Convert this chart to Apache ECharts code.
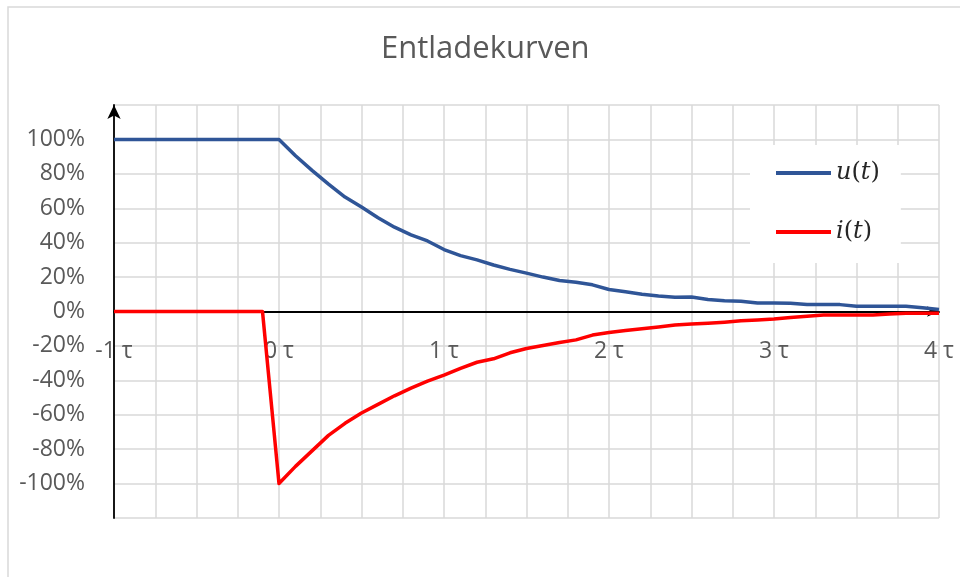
<!DOCTYPE html>
<html>
<head>
    <meta charset="utf-8">
    <title>Entladekurven</title>
    <script src="https://cdn.jsdelivr.net/npm/echarts@6/dist/echarts.min.js"></script>
    <style>
        html, body {margin: 0; padding: 0; background: #fff;}
        #chart {width: 960px; height: 577px;}
    </style>
</head>
<body>
<div id="chart"></div>
<script>
    // Zeit in tau, Werte als Anteil (1 = 100%)
    var tValues = [-1, -0.1, 0, 0.1, 0.2, 0.3, 0.4, 0.5, 0.6, 0.7, 0.8, 0.9, 1.0,
        1.1, 1.2, 1.3, 1.4, 1.5, 1.6, 1.7, 1.8, 1.9, 2.0, 2.1, 2.2, 2.3, 2.4, 2.5,
        2.6, 2.7, 2.8, 2.9, 3.0, 3.1, 3.2, 3.3, 3.4, 3.5, 3.6, 3.7, 3.8, 3.9, 4.0];
    var uValues = [1, 1, 1, 0.905, 0.82, 0.74, 0.665, 0.607, 0.545, 0.49, 0.445, 0.41, 0.36,
        0.325, 0.3, 0.27, 0.245, 0.223, 0.2, 0.18, 0.17, 0.155, 0.128, 0.115, 0.1, 0.09, 0.083, 0.084,
        0.07, 0.062, 0.06, 0.05, 0.05, 0.048, 0.04, 0.04, 0.04, 0.03, 0.03, 0.03, 0.03, 0.022, 0.012];
    var iValues = [0, 0, -1, -0.9, -0.81, -0.72, -0.65, -0.59, -0.54, -0.49, -0.445, -0.405, -0.37,
        -0.33, -0.295, -0.275, -0.24, -0.215, -0.198, -0.18, -0.165, -0.137, -0.122, -0.11, -0.1, -0.09, -0.078, -0.073,
        -0.068, -0.062, -0.054, -0.05, -0.044, -0.035, -0.027, -0.021, -0.021, -0.021, -0.021, -0.015, -0.01, -0.01, -0.01];
    var seriesNames = ['u(t)', 'i(t)'];

    function pairs(ys) {
        var out = [];
        for (var k = 0; k < tValues.length; k++) {
            out.push([tValues[k], ys[k]]);
        }
        return out;
    }

    var labelFont = '"Open Sans", sans-serif';
    var myChart = echarts.init(document.getElementById('chart'));
    var option = {
        animation: false,
        title: {
            text: 'Entladekurven',
            left: 376,
            top: 29,
            textStyle: {fontFamily: labelFont, fontSize: 31, fontWeight: 'normal', color: '#595959'}
        },
        graphic: [{
            type: 'rect',
            shape: {x: 8, y: 7, width: 1000, height: 600},
            style: {fill: 'none', stroke: '#d9d9d9', lineWidth: 1.5},
            silent: true
        }],
        grid: {left: 114, right: 21, top: 105, bottom: 59},
        legend: {
            data: seriesNames,
            orient: 'vertical',
            left: 750,
            top: 145,
            padding: [14, 21, 17, 26],
            backgroundColor: '#fff',
            icon: 'rect',
            itemWidth: 55,
            itemHeight: 4,
            itemGap: 31,
            formatter: function (name) {
                return '{i|' + name.charAt(0) + '}{n|(}{i|t}{n|)}';
            },
            textStyle: {
                lineHeight: 28,
                rich: {
                    i: {fontFamily: '"DejaVu Serif", serif', fontStyle: 'italic', fontSize: 24, color: '#262626'},
                    n: {fontFamily: '"DejaVu Serif", serif', fontSize: 24, color: '#262626'}
                }
            }
        },
        xAxis: {
            type: 'value',
            min: -1,
            max: 4,
            interval: 0.25,
            axisLine: {onZero: true, lineStyle: {color: '#000', width: 1.8}, symbol: ['none', 'arrow'], symbolSize: [8, 12]},
            axisTick: {show: false},
            axisLabel: {
                margin: -178,
                fontFamily: labelFont,
                fontSize: 23,
                color: '#595959',
                formatter: function (v) {
                    return Math.abs(v - Math.round(v)) < 1e-6 ? Math.round(v) + ' τ' : '';
                }
            },
            splitLine: {show: true, lineStyle: {color: '#d9d9d9', width: 1.5}}
        },
        yAxis: {
            type: 'value',
            min: -1.2,
            max: 1.2,
            interval: 0.2,
            axisLine: {show: true, onZero: false, lineStyle: {color: '#000', width: 1.8}, symbol: ['none', 'arrow'], symbolSize: [10, 14]},
            axisTick: {show: false},
            axisLabel: {
                margin: 29,
                fontFamily: labelFont,
                fontSize: 23,
                color: '#595959',
                formatter: function (v) {
                    var p = Math.round(v * 100);
                    return Math.abs(p) > 100 ? '' : p + '%';
                }
            },
            splitLine: {show: true, lineStyle: {color: '#d9d9d9', width: 1.5}}
        },
        series: [{
            name: seriesNames[0],
            type: 'line',
            data: pairs(uValues),
            symbol: 'none',
            color: '#2F5597',
            lineStyle: {width: 3.5, color: '#2F5597', join: 'round'}
        }, {
            name: seriesNames[1],
            type: 'line',
            data: pairs(iValues),
            symbol: 'none',
            color: '#FF0000',
            lineStyle: {width: 3.5, color: '#FF0000', join: 'round'}
        }]
    };
    myChart.setOption(option);
</script>
</body>
</html>
